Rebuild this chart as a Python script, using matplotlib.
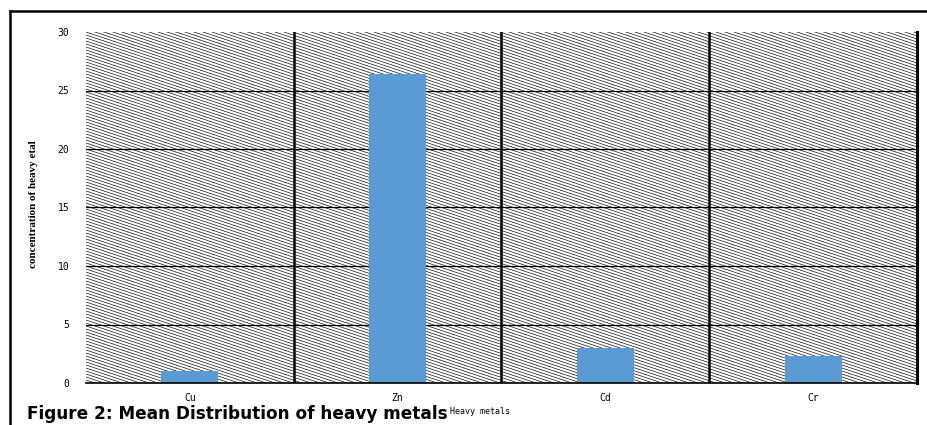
import matplotlib.pyplot as plt
from matplotlib.collections import LineCollection
from matplotlib.lines import Line2D
import numpy as np

# mean concentration of each heavy metal
metals = ["Cu", "Zn", "Cd", "Cr"]
conc = [1.0, 26.4, 3.0, 2.3]
yticks = [0, 5, 10, 15, 20, 25, 30]

fig = plt.figure(figsize=(9.28, 4.25), dpi=100)
ax = fig.add_axes([86 / 928, 42 / 425, 831 / 928, 351 / 425])

x = np.arange(len(metals))
ax.set_xlim(-0.5, len(metals) - 0.5)
ax.set_ylim(0, 30)

# shallow diagonal hatching behind the plot (axes fraction coords)
drop = 277 / 351
step = 3 / 351
starts = np.arange(0, 1 + drop + step, step)
segs = [[(0, c), (1, c - drop)] for c in starts]
hatch = LineCollection(segs, transform=ax.transAxes, colors='black',
                       linewidths=0.45, zorder=0)
ax.add_collection(hatch)

for y in yticks[1:-1]:
    ax.axhline(y, color='black', linewidth=0.9, zorder=1)
for b in [0.5, 1.5, 2.5]:
    ax.axvline(b, color='black', linewidth=1.8, zorder=1)

ax.bar(x, conc, width=0.275, color='#5B9BD5', zorder=2)

for s in ['top', 'left']:
    ax.spines[s].set_visible(False)
ax.spines['right'].set_linewidth(2.2)
ax.spines['bottom'].set_linewidth(1.2)

ax.set_xticks(x)
ax.set_xticklabels(metals, family='DejaVu Sans Mono', fontsize=7)
ax.set_yticks(yticks)
ax.set_yticklabels([str(v) for v in yticks], family='DejaVu Sans Mono', fontsize=7)
ax.tick_params(length=0, pad=12)
ax.tick_params(axis='x', pad=7)

fig.text(33 / 928, 0.52, "concentration of heavy etal", rotation=90, ha='center',
         va='center', family='Liberation Serif', fontweight='bold', fontsize=8)
fig.text(480 / 928, 14 / 425, "Heavy metals", ha='center', va='center',
         family='DejaVu Sans Mono', fontsize=6)
fig.text(27 / 928, 2 / 425, "Figure 2: Mean Distribution of heavy metals", ha='left',
         va='bottom', family='DejaVu Sans', fontweight='bold', fontsize=12.2)

# outer frame
fig.add_artist(Line2D([10 / 928, 10 / 928], [0, 1 - 11 / 425], color='black', linewidth=1.8))
fig.add_artist(Line2D([10 / 928, 1], [1 - 11 / 425, 1 - 11 / 425], color='black', linewidth=1.8))

fig.savefig("out.png", dpi=100)
